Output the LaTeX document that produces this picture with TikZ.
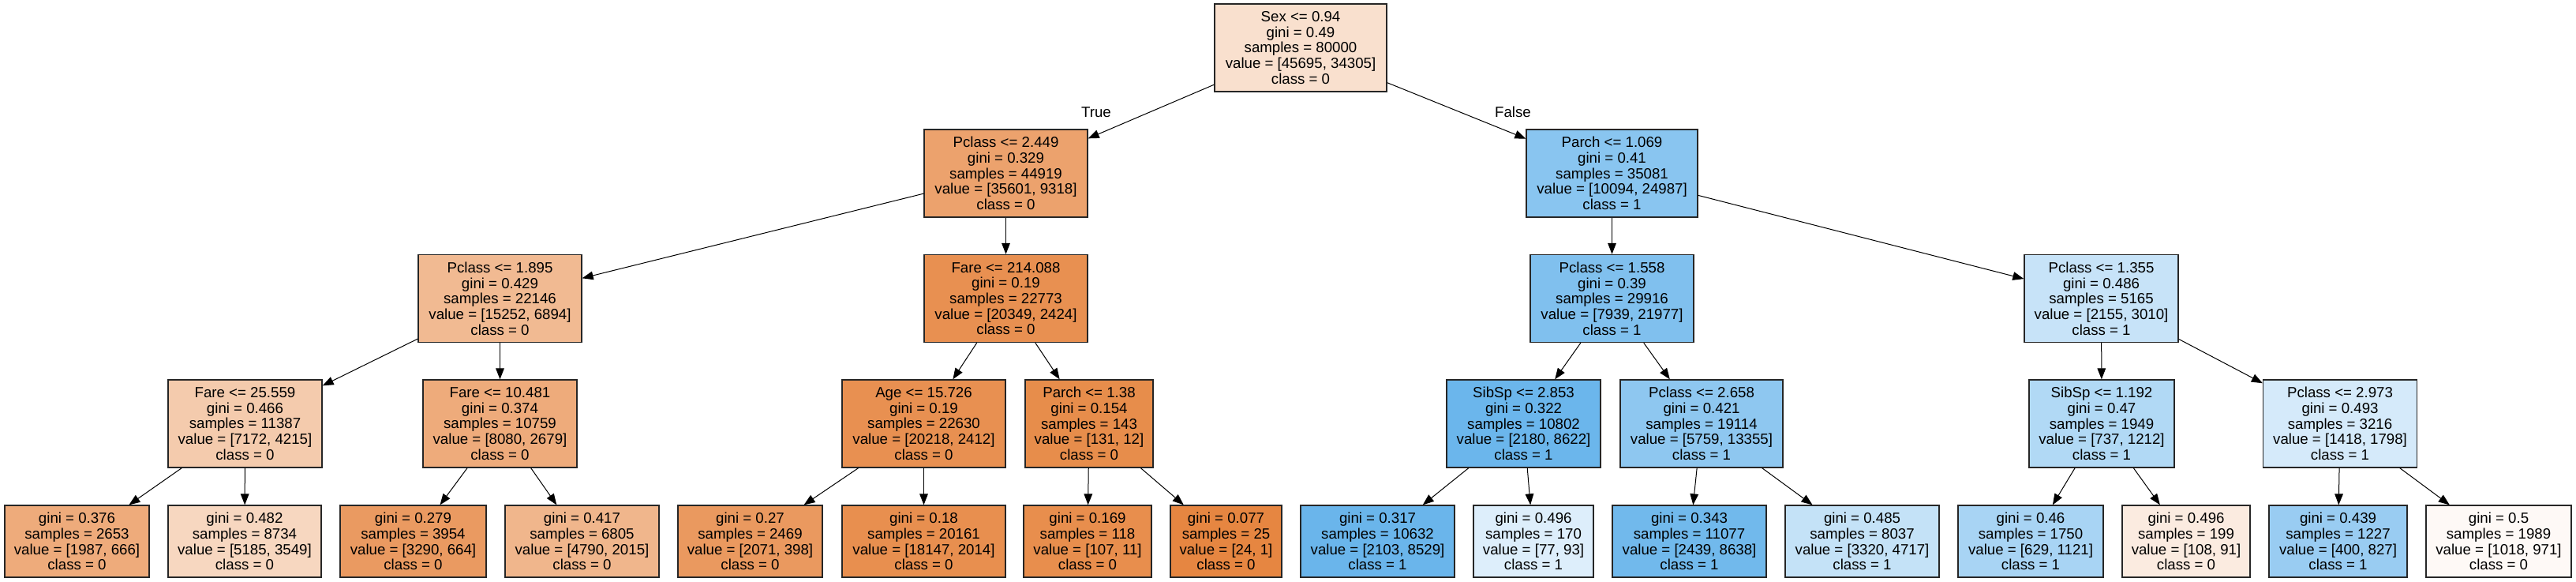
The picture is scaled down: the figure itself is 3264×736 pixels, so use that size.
\documentclass[tikz,border=0pt]{standalone}
\usepackage{fontspec}
\setmainfont{Liberation Sans}
\usetikzlibrary{arrows.meta}
\definecolor{orng}{RGB}{229,129,57}
\definecolor{blu}{RGB}{57,157,229}
\newcommand\tnode[7]{\node[box, minimum width=#4*0.75pt, minimum height=#5*0.75pt, fill=#6] (#1) at (#2,#3) {#7};}
\begin{document}
\begin{tikzpicture}[x=0.75pt,y=-0.75pt,
  box/.style={draw=black!85, line width=1pt, rectangle, align=center, inner sep=0pt, font=\fontsize{14}{14.75}\selectfont},
  edge/.style={-{Triangle[length=10.5pt,width=8pt]}, line width=0.75pt, black},
  lbl/.style={font=\fontsize{14}{14.75}\selectfont, inner sep=0pt}]
\useasboundingbox (0,0) rectangle (3264,736);
% level 0
\tnode{n0}{1648}{60.5}{218}{111}{orng!24.9!white}{Sex <= 0.94\\gini = 0.49\\samples = 80000\\value = [45695, 34305]\\class = 0}
% level 1
\tnode{n1}{1274.5}{219.5}{207}{111}{orng!73.8!white}{Pclass <= 2.449\\gini = 0.329\\samples = 44919\\value = [35601, 9318]\\class = 0}
\tnode{n2}{2042.5}{219.5}{217}{111}{blu!59.6!white}{Parch <= 1.069\\gini = 0.41\\samples = 35081\\value = [10094, 24987]\\class = 1}
% level 2
\tnode{n3}{633.5}{378}{207}{111}{orng!54.8!white}{Pclass <= 1.895\\gini = 0.429\\samples = 22146\\value = [15252, 6894]\\class = 0}
\tnode{n4}{1274.5}{378}{207}{111}{orng!88.1!white}{Fare <= 214.088\\gini = 0.19\\samples = 22773\\value = [20349, 2424]\\class = 0}
\tnode{n5}{2042.5}{378}{207}{111}{blu!63.9!white}{Pclass <= 1.558\\gini = 0.39\\samples = 29916\\value = [7939, 21977]\\class = 1}
\tnode{n6}{2662.5}{378}{195}{111}{blu!28.4!white}{Pclass <= 1.355\\gini = 0.486\\samples = 5165\\value = [2155, 3010]\\class = 1}
% level 3
\tnode{n7}{310.5}{536.5}{195}{111}{orng!41.2!white}{Fare <= 25.559\\gini = 0.466\\samples = 11387\\value = [7172, 4215]\\class = 0}
\tnode{n8}{633.5}{536.5}{195}{111}{orng!66.8!white}{Fare <= 10.481\\gini = 0.374\\samples = 10759\\value = [8080, 2679]\\class = 0}
\tnode{n9}{1170.5}{536.5}{207}{111}{orng!88.1!white}{Age <= 15.726\\gini = 0.19\\samples = 22630\\value = [20218, 2412]\\class = 0}
\tnode{n10}{1380}{536.5}{162}{111}{orng!90.8!white}{Parch <= 1.38\\gini = 0.154\\samples = 143\\value = [131, 12]\\class = 0}
\tnode{n11}{1930.5}{536.5}{195}{111}{blu!74.7!white}{SibSp <= 2.853\\gini = 0.322\\samples = 10802\\value = [2180, 8622]\\class = 1}
\tnode{n12}{2156}{536.5}{206}{111}{blu!56.9!white}{Pclass <= 2.658\\gini = 0.421\\samples = 19114\\value = [5759, 13355]\\class = 1}
\tnode{n13}{2663}{536.5}{184}{111}{blu!39.2!white}{SibSp <= 1.192\\gini = 0.47\\samples = 1949\\value = [737, 1212]\\class = 1}
\tnode{n14}{2965}{536.5}{195}{111}{blu!21.1!white}{Pclass <= 2.973\\gini = 0.493\\samples = 3216\\value = [1418, 1798]\\class = 1}
% leaves
\tnode{l1}{97.5}{685.5}{183}{91}{orng!66.5!white}{gini = 0.376\\samples = 2653\\value = [1987, 666]\\class = 0}
\tnode{l2}{310}{685.5}{194}{91}{orng!31.6!white}{gini = 0.482\\samples = 8734\\value = [5185, 3549]\\class = 0}
\tnode{l3}{523.5}{685.5}{185}{91}{orng!79.8!white}{gini = 0.279\\samples = 3954\\value = [3290, 664]\\class = 0}
\tnode{l4}{737.5}{685.5}{195}{91}{orng!57.9!white}{gini = 0.417\\samples = 6805\\value = [4790, 2015]\\class = 0}
\tnode{l5}{950.5}{685.5}{183}{91}{orng!80.8!white}{gini = 0.27\\samples = 2469\\value = [2071, 398]\\class = 0}
\tnode{l6}{1170.5}{685.5}{207}{91}{orng!88.9!white}{gini = 0.18\\samples = 20161\\value = [18147, 2014]\\class = 0}
\tnode{l7}{1378}{685.5}{162}{91}{orng!89.7!white}{gini = 0.169\\samples = 118\\value = [107, 11]\\class = 0}
\tnode{l8}{1553.5}{685.5}{141}{91}{orng!95.8!white}{gini = 0.077\\samples = 25\\value = [24, 1]\\class = 0}
\tnode{l9}{1745.5}{685.5}{195}{91}{blu!75.3!white}{gini = 0.317\\samples = 10632\\value = [2103, 8529]\\class = 1}
\tnode{l10}{1943}{685.5}{152}{91}{blu!17.2!white}{gini = 0.496\\samples = 170\\value = [77, 93]\\class = 1}
\tnode{l11}{2140.5}{685.5}{195}{91}{blu!71.8!white}{gini = 0.343\\samples = 11077\\value = [2439, 8638]\\class = 1}
\tnode{l12}{2359.5}{685.5}{195}{91}{blu!29.6!white}{gini = 0.485\\samples = 8037\\value = [3320, 4717]\\class = 1}
\tnode{l13}{2573}{685.5}{184}{91}{blu!43.9!white}{gini = 0.46\\samples = 1750\\value = [629, 1121]\\class = 1}
\tnode{l14}{2770}{685.5}{162}{91}{orng!15.7!white}{gini = 0.496\\samples = 199\\value = [108, 91]\\class = 0}
\tnode{l15}{2962.5}{685.5}{175}{91}{blu!51.6!white}{gini = 0.439\\samples = 1227\\value = [400, 827]\\class = 1}
\tnode{l16}{3166}{685.5}{184}{91}{orng!4.6!white}{gini = 0.5\\samples = 1989\\value = [1018, 971]\\class = 0}
% edges
\draw[edge] (n0) -- (n1);
\draw[edge] (n0) -- (n2);
\draw[edge] (n1) -- (n3);
\draw[edge] (n1) -- (n4);
\draw[edge] (n2) -- (n5);
\draw[edge] (n2) -- (n6);
\draw[edge] (n3) -- (n7);
\draw[edge] (n3) -- (n8);
\draw[edge] (n4) -- (n9);
\draw[edge] (n4) -- (n10);
\draw[edge] (n5) -- (n11);
\draw[edge] (n5) -- (n12);
\draw[edge] (n6) -- (n13);
\draw[edge] (n6) -- (n14);
\draw[edge] (n7) -- (l1);
\draw[edge] (n7) -- (l2);
\draw[edge] (n8) -- (l3);
\draw[edge] (n8) -- (l4);
\draw[edge] (n9) -- (l5);
\draw[edge] (n9) -- (l6);
\draw[edge] (n10) -- (l7);
\draw[edge] (n10) -- (l8);
\draw[edge] (n11) -- (l9);
\draw[edge] (n11) -- (l10);
\draw[edge] (n12) -- (l11);
\draw[edge] (n12) -- (l12);
\draw[edge] (n13) -- (l13);
\draw[edge] (n13) -- (l14);
\draw[edge] (n14) -- (l15);
\draw[edge] (n14) -- (l16);
% edge labels
\node[lbl] (tl) at (1389,142) {True};
\node[lbl] (fl) at (1917,142) {False};
\end{tikzpicture}
\end{document}
